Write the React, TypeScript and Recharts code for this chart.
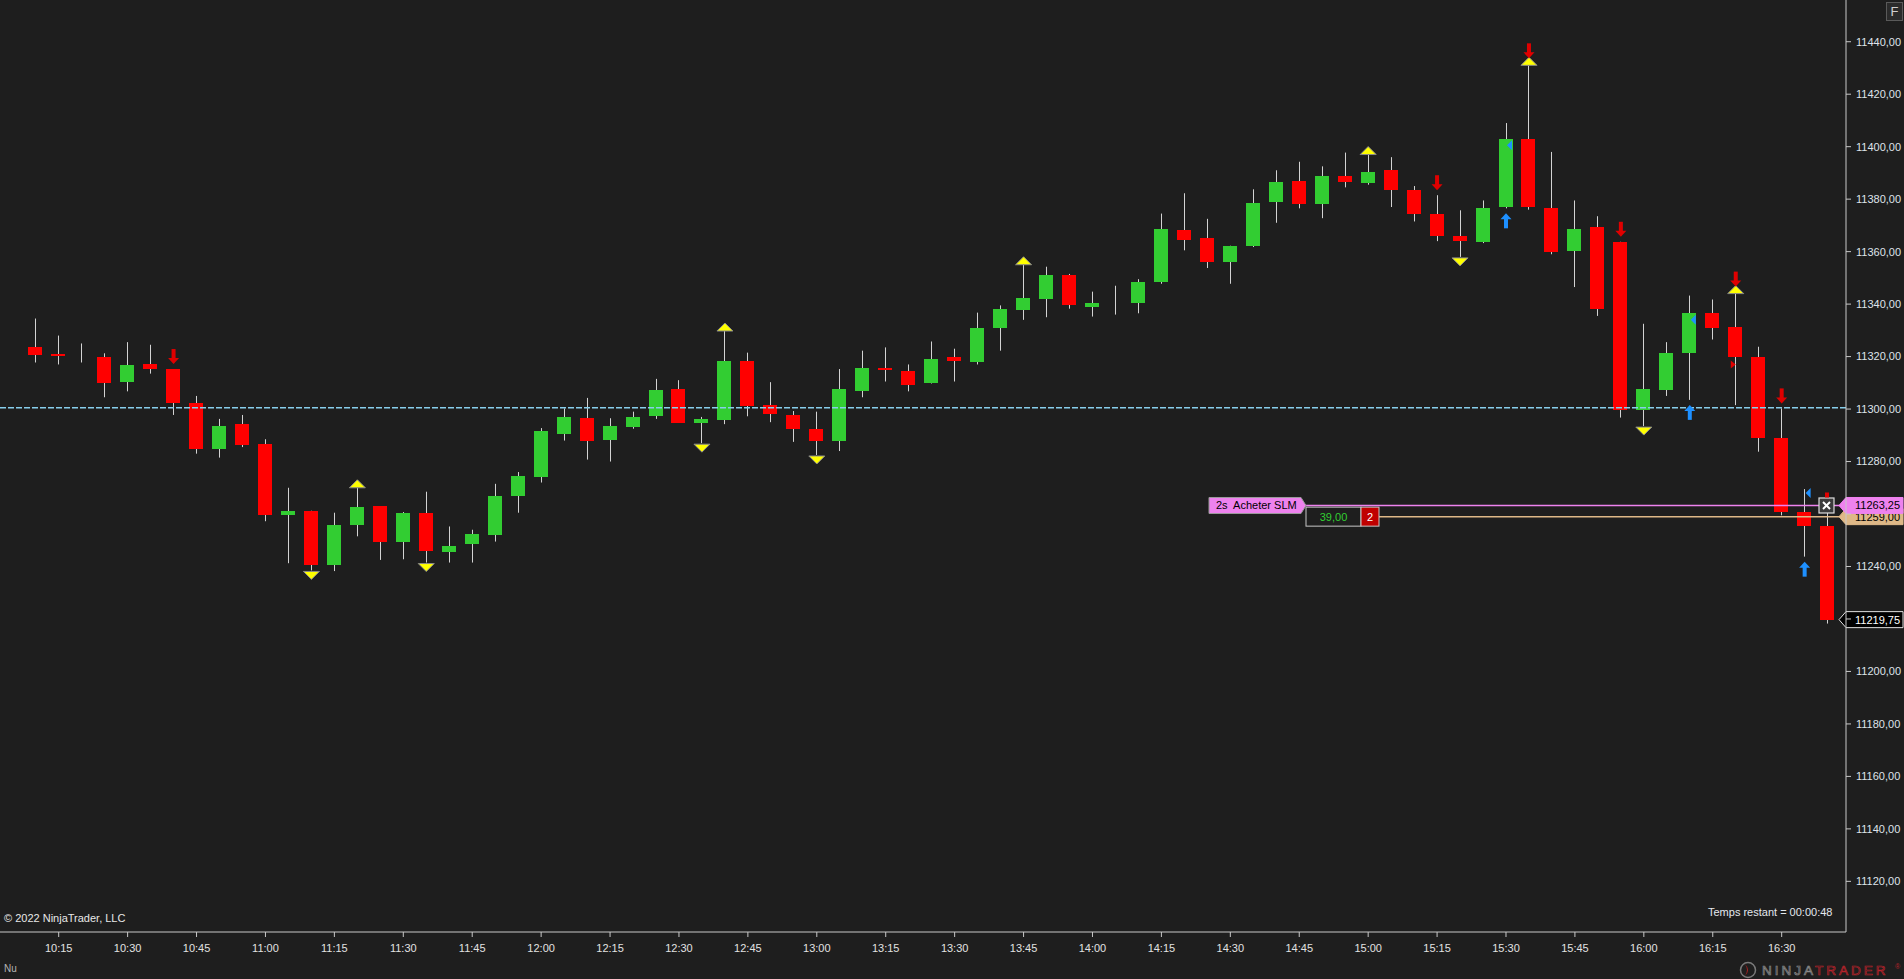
import React from "react"
import { ComposedChart, Bar, Scatter, XAxis, YAxis, ReferenceLine } from "recharts"

// 5-minute bars
const times = [
  "10:10", "10:15", "10:20", "10:25", "10:30", "10:35", "10:40", "10:45", "10:50", "10:55",
  "11:00", "11:05", "11:10", "11:15", "11:20", "11:25", "11:30", "11:35", "11:40", "11:45",
  "11:50", "11:55", "12:00", "12:05", "12:10", "12:15", "12:20", "12:25", "12:30", "12:35",
  "12:40", "12:45", "12:50", "12:55", "13:00", "13:05", "13:10", "13:15", "13:20", "13:25",
  "13:30", "13:35", "13:40", "13:45", "13:50", "13:55", "14:00", "14:05", "14:10", "14:15",
  "14:20", "14:25", "14:30", "14:35", "14:40", "14:45", "14:50", "14:55", "15:00", "15:05",
  "15:10", "15:15", "15:20", "15:25", "15:30", "15:35", "15:40", "15:45", "15:50", "15:55",
  "16:00", "16:05", "16:10", "16:15", "16:20", "16:25", "16:30", "16:35", "16:40",
]
const opens = [
  11323.5, 11321, 11320.5, 11320, 11310.5, 11317, 11315.25, 11302.5, 11284.75, 11294.25,
  11286.75, 11259.75, 11261.25, 11240.5, 11255.75, 11263, 11249.5, 11260.5, 11245.5, 11248.5,
  11252, 11266.75, 11274.25, 11290.5, 11296.5, 11288.25, 11293.25, 11297.25, 11307.5, 11294.75,
  11295.75, 11318.5, 11301.5, 11297.75, 11292.5, 11288, 11306.75, 11315.5, 11314.5, 11309.75,
  11320, 11317.75, 11331, 11337.75, 11342, 11351.25, 11339, 11340, 11340.25, 11348.5,
  11368.25, 11365.25, 11356, 11362, 11378.75, 11386.75, 11378, 11388.75, 11386, 11391,
  11383.5, 11374.25, 11366, 11363.75, 11377, 11403, 11376.5, 11360.25, 11369.25, 11363.75,
  11299.75, 11307.25, 11321.5, 11336.75, 11331.25, 11320, 11289, 11260.75, 11255.5,
]
const highs = [
  11334.5, 11328, 11325, 11321.25, 11325.5, 11324.5, 11315.25, 11305, 11296.25, 11297.75,
  11288.5, 11270, 11261.25, 11260.5, 11270, 11263, 11260.75, 11268.5, 11255.25, 11254,
  11271.5, 11276, 11292.75, 11300.25, 11304.25, 11296.5, 11299, 11311.5, 11311, 11297,
  11329.75, 11321.5, 11310.25, 11299.25, 11299, 11315.25, 11322.25, 11323.5, 11317, 11325.75,
  11323, 11336.75, 11339.5, 11355, 11354.25, 11351.5, 11344.75, 11347, 11349.5, 11374.5,
  11382.25, 11372.5, 11362.25, 11383.75, 11391, 11394.25, 11392.5, 11397.75, 11397, 11396,
  11385, 11381.5, 11375.75, 11379.5, 11409, 11431, 11398, 11379.5, 11373.5, 11363.75,
  11332.5, 11325.5, 11343.25, 11341.75, 11344, 11323.75, 11300.25, 11269.5, 11266,
]
const lows = [
  11317.75, 11317, 11317.75, 11304.5, 11306.75, 11313.5, 11297.75, 11283, 11281.5, 11285.5,
  11257.25, 11241.25, 11238.5, 11238.25, 11251.5, 11242.5, 11242.75, 11241.5, 11241.5, 11241.5,
  11249.5, 11260.5, 11272, 11288, 11280.75, 11280, 11292.5, 11296.25, 11294.75, 11287,
  11294.25, 11297.25, 11295, 11287.5, 11282.5, 11284, 11304.5, 11310.5, 11306.75, 11309.75,
  11310.5, 11317, 11322.25, 11334, 11335, 11338.25, 11335.25, 11336, 11336.5, 11347.75,
  11360.5, 11353.75, 11347.75, 11361.75, 11371, 11376.5, 11372.75, 11384.5, 11385.5, 11377,
  11371.5, 11364, 11358, 11363.25, 11376.5, 11376, 11359, 11346.5, 11335.5, 11296.75,
  11293.5, 11305, 11303.5, 11326.5, 11301.5, 11283.75, 11259.5, 11243.75, 11218.25,
]
const closes = [
  11320.75, 11320.25, 11320.5, 11309.75, 11316.75, 11315.25, 11302.25, 11284.75, 11293.5, 11286.25,
  11259.75, 11261, 11240.5, 11256, 11262.5, 11249.5, 11260.5, 11245.75, 11248, 11252.25,
  11267, 11274.5, 11291.75, 11297, 11288, 11293.5, 11297, 11307.25, 11294.75, 11296.25,
  11318.5, 11301, 11298, 11292.5, 11288, 11307.5, 11315.5, 11315, 11309, 11319.25,
  11318.25, 11331, 11338, 11342.5, 11351, 11339.75, 11340.25, 11340, 11348.5, 11368.5,
  11364.5, 11356, 11362, 11378.5, 11386.5, 11378, 11389, 11386.5, 11390.5, 11383.5,
  11374.25, 11366, 11364, 11376.5, 11402.75, 11377, 11360, 11368.5, 11338.25, 11299.75,
  11307.5, 11321.25, 11336.75, 11331, 11320, 11289, 11260.75, 11255.5, 11219.75,
]

const timeTicks = [
  "10:15", "10:30", "10:45", "11:00", "11:15", "11:30", "11:45", "12:00", "12:15", "12:30",
  "12:45", "13:00", "13:15", "13:30", "13:45", "14:00", "14:15", "14:30", "14:45", "15:00",
  "15:15", "15:30", "15:45", "16:00", "16:15", "16:30",
]
const priceTicks = [
  11120, 11140, 11160, 11180, 11200, 11220, 11240, 11260, 11280, 11300,
  11320, 11340, 11360, 11380, 11400, 11420, 11440,
]

// indicator markers (bar index)
const swingHighs = [14, 30, 43, 58, 65, 74]
const swingLows = [12, 17, 29, 34, 62, 70]
const sellSignals = [6, 61, 65, 69, 74, 76]
const buySignals = [64, 72, 77]
const buyEntries = [64, 72, 77]
const buyEntryPrices = [11400.5, 11334, 11268]
const sellEntries = [74]
const sellEntryPrices = [11317]

const refPrice = 11300.5
const orderPrice = 11263.25
const avgPrice = 11259
const lastPrice = 11219.75
const orderLabel = "2s  Acheter SLM"
const pnlLabel = "39,00"
const qtyLabel = "2"

const UP = "#32CD32"
const DOWN = "#FF0000"
const WICK = "#D3D3D3"
const BG = "#1E1E1E"
const FONT = "'Liberation Sans', Arial, sans-serif"

const data = times.map((t, i) => ({
  i,
  time: t,
  open: opens[i],
  high: highs[i],
  low: lows[i],
  close: closes[i],
  range: [lows[i], highs[i]],
}))

const hiMarks = swingHighs.map((i) => ({ i, p: highs[i] }))
const loMarks = swingLows.map((i) => ({ i, p: lows[i] }))
const sellMarks = sellSignals.map((i) => ({ i, p: highs[i], lift: swingHighs.includes(i) ? 7 : 5 }))
const buyMarks = buySignals.map((i) => ({ i, p: lows[i] }))
const buyFlags = buyEntries.map((i, k) => ({ i, p: buyEntryPrices[k] }))
const sellFlags = sellEntries.map((i, k) => ({ i, p: sellEntryPrices[k] }))

const fmt = (v: number) => v.toFixed(2).replace(".", ",")

// price labels that sit under one of the tags on the right axis are covered
const taggedPrices = [orderPrice, avgPrice, lastPrice]

function PriceTick(props: any) {
  const { x, y, payload } = props
  const v = payload?.value
  if (taggedPrices.some((p) => Math.abs(p - v) < 3)) return <g />
  return (
    <text x={x} y={y} dy="0.355em" fill="#dfe3ea" fontSize={11} fontFamily={FONT} textAnchor="start">
      {fmt(v)}
    </text>
  )
}

function Candle(props: any) {
  const { x, y, width, height, payload } = props
  if (!payload) return null
  const { open, close, high, low } = payload
  const top = Math.min(y, y + height)
  const h = Math.abs(height)
  const k = h / (high - low || 1)
  const cx = Math.round(x + width / 2) + 0.5
  const yO = top + (high - open) * k
  const yC = top + (high - close) * k
  const bTop = Math.min(yO, yC)
  const bH = Math.abs(yC - yO)
  return (
    <g>
      <line x1={cx} x2={cx} y1={top} y2={top + h} stroke={WICK} strokeWidth={1} />
      {bH > 0 && (
        <rect
          x={Math.round(x)}
          y={bTop}
          width={width}
          height={Math.max(bH, 2)}
          fill={close >= open ? UP : DOWN}
          shapeRendering="crispEdges"
        />
      )}
    </g>
  )
}

const TriUp = ({ cx, cy }: any) => (
  <polygon points={`${cx - 8},${cy} ${cx + 8},${cy} ${cx},${cy - 8}`} fill="#FFFF00" stroke="#8a8a8a" strokeWidth={1} />
)
const TriDown = ({ cx, cy }: any) => (
  <polygon points={`${cx - 8},${cy + 1} ${cx + 8},${cy + 1} ${cx},${cy + 9}`} fill="#FFFF00" stroke="#8a8a8a" strokeWidth={1} />
)
const SellArrow = ({ cx, cy, payload }: any) => {
  const tip = cy - (payload?.lift ?? 5)
  return (
    <g fill="#E00000">
      <rect x={cx - 2} y={tip - 15} width={4} height={10} />
      <polygon points={`${cx - 5.5},${tip - 6} ${cx + 5.5},${tip - 6} ${cx},${tip}`} />
    </g>
  )
}
const BuyArrow = ({ cx, cy }: any) => {
  const tip = cy + 5
  return (
    <g fill="#1E90FF">
      <polygon points={`${cx - 5.5},${tip + 6} ${cx + 5.5},${tip + 6} ${cx},${tip}`} />
      <rect x={cx - 2} y={tip + 5} width={4} height={10} />
    </g>
  )
}
const BuyFlag = ({ cx, cy }: any) => (
  <polygon points={`${cx + 1},${cy} ${cx + 6},${cy - 5} ${cx + 6},${cy + 5}`} fill="#1E90FF" />
)
const SellFlag = ({ cx, cy }: any) => (
  <polygon points={`${cx - 5},${cy - 4} ${cx - 5},${cy + 4} ${cx},${cy}`} fill="#E00000" />
)

function AxisTag({ x, y, fill, color, border, text }: any) {
  return (
    <g>
      <polygon
        points={`${x - 7},${y} ${x},${y - 8} ${x + 57},${y - 8} ${x + 57},${y + 8} ${x},${y + 8}`}
        fill={fill}
        stroke={border}
        strokeWidth={1}
      />
      <text x={x + 9} y={y + 4} fill={color} fontSize={11} fontFamily={FONT}>
        {text}
      </text>
    </g>
  )
}

// right edge of the plot, whichever end the reference line reports it on
const rightEdge = (p: any) => Math.max(p.x1 ?? 0, p.x2 ?? 0)

function OrderLine(p: any) {
  const xr = rightEdge(p)
  const y = p.y1
  const bx = xr - 637
  return (
    <g>
      <line x1={xr - 540} x2={xr} y1={y} y2={y} stroke="#EE82EE" strokeWidth={1.5} />
      <polygon
        points={`${bx},${y - 8} ${xr - 545},${y - 8} ${xr - 540},${y} ${xr - 545},${y + 8} ${bx},${y + 8}`}
        fill="#EE82EE"
        stroke="#9a9a9a"
        strokeWidth={1}
      />
      <text x={bx + 7} y={y + 4} fill="#000" fontSize={11} fontFamily={FONT} style={{ whiteSpace: "pre" }}>
        {orderLabel}
      </text>
      <rect x={xr - 27} y={y - 7.5} width={15} height={15} fill="#3a3a3a" stroke="#dddddd" strokeWidth={1.2} />
      <line x1={xr - 23} y1={y - 3.5} x2={xr - 16} y2={y + 3.5} stroke="#ffffff" strokeWidth={2} />
      <line x1={xr - 23} y1={y + 3.5} x2={xr - 16} y2={y - 3.5} stroke="#ffffff" strokeWidth={2} />
      <rect x={xr - 21} y={y - 13} width={4} height={5} fill="#E00000" />
      <AxisTag x={xr} y={y} fill="#EE82EE" color="#000" border="#EE82EE" text={fmt(orderPrice)} />
    </g>
  )
}

function AvgLine(p: any) {
  const xr = rightEdge(p)
  const y = p.y1
  return (
    <g>
      <line x1={xr - 467} x2={xr} y1={y} y2={y} stroke="#DEB887" strokeWidth={1.5} />
      <rect x={xr - 540} y={y - 9.5} width={55} height={19} fill={BG} stroke="#c8c8c8" strokeWidth={1} />
      <text x={xr - 512.5} y={y + 4} fill={UP} fontSize={11} fontFamily={FONT} textAnchor="middle">
        {pnlLabel}
      </text>
      <rect x={xr - 485} y={y - 9.5} width={18} height={19} fill="#C00000" stroke="#c8c8c8" strokeWidth={1} />
      <text x={xr - 476} y={y + 4} fill="#fff" fontSize={11} fontFamily={FONT} textAnchor="middle">
        {qtyLabel}
      </text>
      <AxisTag x={xr} y={y} fill="#DEB887" color="#000" border="#DEB887" text={fmt(avgPrice)} />
    </g>
  )
}

function LastTag(p: any) {
  return <AxisTag x={rightEdge(p)} y={p.y1} fill="#000" color="#fff" border="#e0e0e0" text={fmt(lastPrice)} />
}

const overlay = (left: number, top: number, color: string, size = 11): React.CSSProperties => ({
  position: "absolute",
  left,
  top,
  color,
  fontSize: size,
  fontFamily: FONT,
  lineHeight: "13px",
  whiteSpace: "nowrap",
})

export default function App() {
  const xTicks = timeTicks.map((t) => times.indexOf(t))
  return (
    <div style={{ position: "absolute", left: 0, top: 0, width: 1904, height: 979, background: BG, overflow: "hidden" }}>
      <style>{`body{margin:0;background:${BG}}`}</style>
      <ComposedChart width={1904} height={979} data={data} margin={{ top: 0, right: 0, bottom: 0, left: 0 }}>
        <XAxis
          dataKey="i"
          type="number"
          domain={[-1.555, 78.8]}
          allowDataOverflow
          ticks={xTicks}
          tickFormatter={(v: number) => times[v]}
          height={47}
          tickSize={5}
          tickMargin={7}
          stroke="#c8c8c8"
          tick={{ fill: "#e2e2e2", fontSize: 11, fontFamily: FONT }}
        />
        <YAxis
          orientation="right"
          type="number"
          domain={[11100.7, 11455.9]}
          allowDataOverflow
          ticks={priceTicks}
          width={58}
          tickSize={5}
          tickMargin={5}
          stroke="#c8c8c8"
          tick={(p: any) => <PriceTick {...p} />}
        />
        <ReferenceLine y={refPrice} stroke="#87CEEB" strokeDasharray="6 2" strokeWidth={1.5} />
        <Bar dataKey="range" barSize={14} shape={(p: any) => <Candle {...p} />} isAnimationActive={false} />
        <Scatter data={hiMarks} dataKey="p" shape={TriUp} isAnimationActive={false} />
        <Scatter data={loMarks} dataKey="p" shape={TriDown} isAnimationActive={false} />
        <Scatter data={sellMarks} dataKey="p" shape={SellArrow} isAnimationActive={false} />
        <Scatter data={buyMarks} dataKey="p" shape={BuyArrow} isAnimationActive={false} />
        <Scatter data={buyFlags} dataKey="p" shape={BuyFlag} isAnimationActive={false} />
        <Scatter data={sellFlags} dataKey="p" shape={SellFlag} isAnimationActive={false} />
        <ReferenceLine y={avgPrice} shape={(p: any) => <AvgLine {...p} />} />
        <ReferenceLine y={orderPrice} shape={(p: any) => <OrderLine {...p} />} />
        <ReferenceLine y={lastPrice} shape={(p: any) => <LastTag {...p} />} />
      </ComposedChart>

      <div style={overlay(4, 912, "#e8e8e8")}>© 2022 NinjaTrader, LLC</div>
      <div style={overlay(1708, 906, "#e4e8ee")}>Temps restant = 00:00:48</div>
      <div style={overlay(4, 962, "#b4b4b4", 10)}>Nu</div>
      <div
        style={{
          position: "absolute", left: 1886, top: 2, width: 15, height: 17, border: "1px solid #5a5a5a",
          background: "#2b2b2b", color: "#cfcfcf", fontSize: 13, fontFamily: FONT, textAlign: "center", lineHeight: "17px",
        }}
      >
        F
      </div>
      <svg style={{ position: "absolute", left: 1736, top: 960 }} width={168} height={19}>
        <circle cx={12} cy={10} r={7.5} fill="none" stroke="#7a7a7a" strokeWidth={1.5} />
        <path d="M9 4 Q15 10 9 16 Q13 10 9 4 Z" fill="#b22222" />
        <text x={26} y={15} fontSize={13.5} fontFamily={FONT} letterSpacing={3} fill="none" stroke="#8a8a8a" strokeWidth={0.7}>
          NINJA
          <tspan stroke="#b8232b">TRADER</tspan>
        </text>
        <text x={159} y={9} fontSize={7} fontFamily={FONT} fill="#b8232b">®</text>
      </svg>
    </div>
  )
}
